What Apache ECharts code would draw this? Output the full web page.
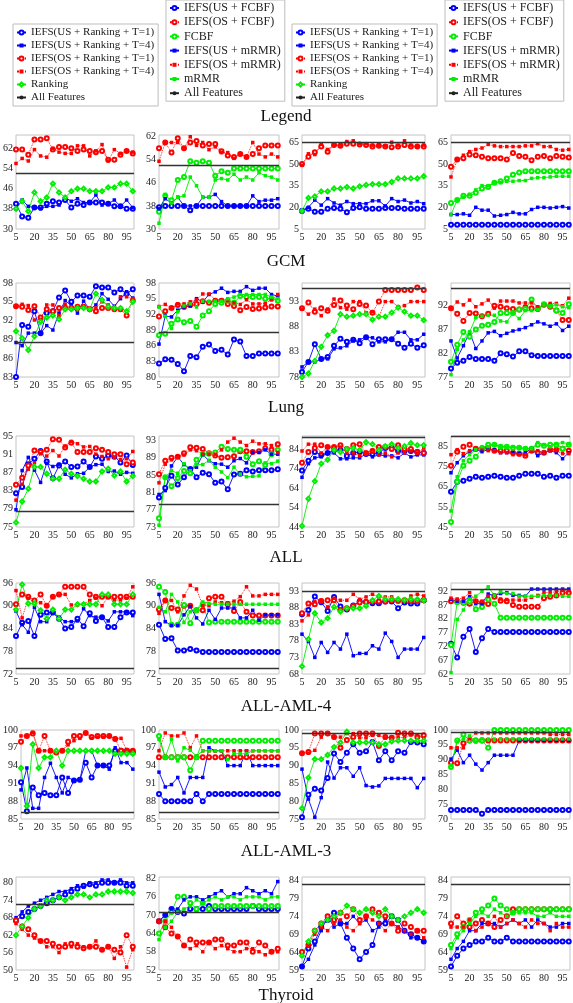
<!DOCTYPE html>
<html><head><meta charset="utf-8">
<script src="https://cdn.jsdelivr.net/npm/echarts@6/dist/echarts.min.js"></script>
<style>html,body{margin:0;padding:0;background:#fff}#c{width:573px;height:1003px}</style>
</head><body><div id="c"></div>
<script>
// ---------------- DATA ----------------
const X = [5,10,15,20,25,30,35,40,45,50,55,60,65,70,75,80,85,90,95,100];
const rowTitles = ['GCM','Lung','ALL','ALL-AML-4','ALL-AML-3','Thyroid'];
const rankNames = ['IEFS(US + Ranking + T=1)','IEFS(US + Ranking + T=4)','IEFS(OS + Ranking + T=1)','IEFS(OS + Ranking + T=4)','Ranking'];
const fsNames = ['IEFS(US + FCBF)','IEFS(OS + FCBF)','FCBF','IEFS(US + mRMR)','IEFS(OS + mRMR)','mRMR'];
const afName = 'All Features';

// y-axis ticks: min, step, max  (rows x 4 columns)
const yMin  = [[30,30,5,5],[83,80,78,77],[75,73,44,45],[72,72,68,62],[85,85,75,70],[50,52,59,59]];
const yStep = [[8,8,15,15],[3,3,5,5],[4,4,10,10],[6,6,5,5],[3,3,5,5],[6,6,5,5]];
const yMax  = [[67.3,62.6,70,70],[98,98,96.7,96.8],[95,94,90.7,90.3],[96,96,95.4,95],[100,100,100,100],[82,82.5,85,85]];
// "All Features" reference value per chart
const allFeat = [[52,52,65,65],[88.6,88.5,95.7,95.7],[78.4,78.3,90.2,90],[73.4,73.4,92.8,92.8],[86.2,86.2,99,99.1],[72.5,71,83,83]];

// Ranking charts: [US T=1, US T=4, OS T=1, OS T=4, Ranking]
// FS charts: [US+FCBF, OS+FCBF, FCBF, US+mRMR, OS+mRMR, mRMR]
const gcm1 = [
 [40,35,34.5,38.5,38.5,40,41,40.5,41.5,38.5,40,39.5,40.5,40.5,40.5,40,39,39,38,38],
 [38,41.5,39,38.5,38,39,39,39.5,42.5,41,42,40.5,40.5,43.5,39.5,40,41.5,39,41.5,38.5],
 [61.5,61.5,59.5,65.5,65.5,66,61.5,62.5,62.5,62,61,61.5,61,60.5,61,57.5,57.5,59.5,61,60],
 [56,58,57,61.5,59,58.5,62,60.5,60,60,63,63,59,61,63.5,57,61.5,60,61,60.5],
 [38,41,37,44.5,41,42.5,48,44.5,42.5,45,46,46,45,45,45,46.5,46.5,48,48,45]];
const gcm2 = [
 [37.5,38,38,38,38,36.5,38,38,38,38,38,38,38,38,38,38,38,38,38,38],
 [58,60,56.5,61.5,58,60,60.5,59,59.5,59.5,57,55.5,55,56,55,56,58,59,59,59],
 [36,41.5,40,47,48,53.5,53,53.5,53,48.5,50,49.5,51,51,51,51,51,51,51,51],
 [37,40.5,39,41,38,38,38,41,41,42,39.5,38,38,38,38,41.5,39.5,40,40,40.5],
 [53.5,60,60,60,58,62,59,60,57.5,58.5,56.5,56.5,54.5,56,55,60,56,55,56,55],
 [32,42,39,41,41.5,48,45,41,41,47,47.5,47,49,47,48,47,49.5,48.5,48,47]];
const gcm3 = [
 [17.5,19,17,17,19,19.5,19,16.5,19.5,20,19,19,19,19.5,19.5,19.5,19,19,19,19],
 [18,20,25,21.5,26,23,21.5,24,22.5,22.5,22.5,24.5,24.5,21,26,24,25,23,24,22.5],
 [50,55,58,62,58.5,63,62.5,64,64,63.5,63,62,62.5,62,61.5,62,63,62,62,62],
 [49,57,56.5,63.5,60,63,63,65.5,66,64,64,63,63,62.5,65,63,66,63,62,63],
 [17.5,26.5,27.5,31,31,33,33,34,33,34.5,35.5,36,36,36,37.5,40,40,40,40,41.5]];
const gcm4 = [
 [8,8,8,8,8,8,8,8,8,8,8,8,8,8,8,8,8,8,8,8],
 [48,53,54,56.5,56,55,54,54,54,53,57.5,55.5,55,52.5,55,55.5,54,55.5,55,54.5],
 [23,25,28,28,30,33,34,37,38,40,42.5,44,45,45,45,45,45,45,45,45],
 [15,15,15.5,14.5,20,18,18,14,14.5,15,16.5,15.5,15.5,18.5,20,20,19.5,20,20.5,19.5],
 [41,53,56,58.5,60,61,63.5,62.5,62,62,62,62,62.5,62.5,64,62,62,60,59.5,60],
 [15,25,27,29,32,35,35,37,37,38,38,38.5,38.5,40,40.5,40.5,41,41.5,41.5,41.5]];
const lung1 = [
 [83,91.3,91,93.5,90,93.2,93.5,95.7,96.8,95,96,96,95.8,97.5,97.3,97.3,96.5,97,96.3,97],
 [88.5,88,90,90,90,91.2,90.5,93.2,95.2,94.4,93.2,95.1,93.8,94.5,96.3,95.4,94.3,95.5,96.6,95.6],
 [94.3,94.2,93.7,94.3,92.5,93.8,93.5,94,94,94,94.2,94.2,93.8,93.5,94,94,93.8,93.8,92.8,95.2],
 [94.3,94.6,94.4,92.1,92.2,94.5,94.5,92.8,94.6,93.8,93.8,94.2,94,94,95,94.5,94,95.8,95.8,95.5],
 [90.3,89.2,87.3,89.5,91.8,92.5,92.8,92.2,93.8,93.8,94,94,93.8,96.3,95.3,94.2,94,94,93.5,95]];
const lung2 = [
 [82.6,83.4,83.3,82.5,81.1,84,83.8,85.8,86.2,85,85.2,84.3,87.2,86.8,84,84,84.5,84.5,84.5,84.5],
 [91.6,92.6,93.2,93.8,93.4,93.8,94,94.5,94.2,94.6,94.6,94,93.6,92.8,93.4,93,93.1,93.3,93.5,93.5],
 [88,88.3,90.2,91,90.5,90.7,89.6,91.8,92.6,94,94.2,94.6,94.2,95.5,95.3,95.3,95.3,95,95,94.6],
 [86.3,91.7,91.5,92.8,93.4,93.6,95,94.4,95.8,96.3,97,96.2,96.4,96.4,97.3,96.6,97,97,95.8,95.5],
 [93.5,93.9,93.2,94,94,94.4,94.8,95.9,95.9,94.8,94.8,94.6,94.2,93.9,94.8,94,94,94.1,94.8,95.8],
 [93.4,91.6,89.3,92.5,93.6,94,93.4,94.5,94.5,94.5,94.5,95,95.3,95.8,95.8,95.8,95.8,95.8,95.3,95]];
const lung3 = [
 [79,81,84.5,81.6,82,84.2,85.6,85,85.4,84.7,85.9,84.5,85.5,85.5,85.5,84.6,83.8,84.6,83.8,84.3],
 [80,81,81,81.6,81.6,83.6,83.8,84.2,85.2,85.4,86,85.8,85,85,85.6,86.9,86.9,85.4,85.4,86.5],
 [91.7,92.8,91,91.7,91.2,92.3,93.2,92.2,91.5,92.5,92.2,90.8,93,95.3,95.3,95.3,95.3,95.3,95.8,95.3],
 [91.5,90.5,91.5,90.2,91.5,93.5,91.8,91.5,93,93,90.8,91,90,93,93,92,92.2,93,93,93],
 [78,78.7,81.2,84,86.3,87.2,90.5,90,90.2,90.5,90.5,89.4,90,90,90.8,91.8,91,90.2,90.2,89.3]];
const lung4 = [
 [78.8,80,80.4,81.2,80.8,80.8,80.8,80.4,82,81.8,81.3,82.4,82.4,81.6,81.4,81.4,81.4,81.4,81.4,81.4],
 [91.5,90.3,88.8,90.5,90.4,89.8,90.3,92,91.8,91.5,91.3,91.2,91.7,91.5,91.3,92.2,91.8,91,89,89],
 [80.2,83.8,86.5,85.5,87,87.8,88,88.6,90.5,90.5,90.5,91.2,91.3,93.3,91.5,92.3,92,91,90.5,92.3],
 [84.6,81,83.6,86.4,83,84.6,86.3,86.6,85.7,86.2,86.7,87,87.4,88,88.6,88.2,87.7,88.2,86.8,87.7],
 [91.5,92.8,92.2,93.2,91.8,92.4,93.2,91.5,93,93,93,92.6,92.6,92.6,91.8,92.2,92.5,92.5,92,93.6],
 [77.5,82.8,84.8,86.5,89.5,89.8,90,90,88.8,88.6,90.5,89.3,91,91,91.2,92.2,92,92.2,91.8,91.6]];
const all1 = [
 [82.4,83.8,88.8,90,91.7,89.4,85.7,88.5,89.4,88.2,88.3,89.4,88.2,90.5,90,90.7,90.5,89.2,90.7,88.6],
 [78.8,87.4,90.3,87.5,84.8,89,88.3,88.8,86.6,85.8,86.7,86.8,88.2,88.7,88.8,87.2,87.3,86.6,87,86.8],
 [84.3,85.8,88.5,91.8,91.5,92,94.3,94.2,92.5,93.5,91.5,91.5,91.5,92.3,92,91.5,91,91,88.8,89.2],
 [80.9,84.4,87.7,89.1,91.1,90.6,91.8,90.6,92.8,93.8,93.3,92.6,92.7,91,90.5,90,90.2,89.8,90,91.6],
 [76,80.6,83.4,88.2,88.2,86.7,85.6,85.6,87.6,86.7,86.2,85.6,85,85,87.2,87.8,86.3,87.2,85,86.2]];
const all2 = [
 [79.8,82,84.8,82.8,84.5,86.4,84.5,85.5,85.2,83.2,83.5,81.7,85.1,85.3,86.1,85.8,86.1,86.1,86.1,86.3],
 [85.2,88.3,89,89.2,90,91.4,91.3,91,90,89.5,89,89.1,89.3,90.5,90.5,90.3,90.5,91.2,90.8,92.1],
 [75,84.5,82.4,84.3,85.9,85.4,88.5,89.8,89.9,90.2,91.5,91,90.8,90.8,89.2,87.5,88.2,87.3,89.8,90.8],
 [80.5,81.4,87.1,89.2,87.4,86.4,86.8,89.7,88.3,87.6,87.5,86.8,88.3,88.8,87.8,90.2,90.2,90.8,89.8,89.8],
 [83.2,87.5,88.5,89.1,89.6,90.8,90.6,89.8,89.8,89.8,90.8,92.6,93.5,92.6,91.8,92.8,92.2,92.2,91.8,90.2],
 [73.4,84.5,86,85.4,87.6,86,87.4,87.4,88.4,86.8,85.7,84.4,86.8,85.2,84.6,84.7,84.8,87.8,87.6,88.2]];
const all3 = [
 [73,78,82.5,81,82,83.5,83.5,80.5,82,82.5,81.5,81.5,82,84.5,84.5,83,83,83,82.5,82],
 [69.5,76.5,79.5,80,82,82,79,79,79.5,79.5,81.5,80,81,80.5,80.5,79.5,82,80,81,81],
 [77,82.5,84.5,86,85,85,86,84,86,86.5,82,83,85,85,84,86,84,84,82.5,82],
 [83,86.5,86.5,82,85,85,85,82,82,80.5,82,83.5,81,82,80,82,82,83,82,84.5],
 [44.5,58.5,67.5,76.5,78.5,83.5,82.5,84,84.5,83.5,87.5,86.5,83.5,85.5,86.5,84.5,85.5,87,86,86]];
const all4 = [
 [62.5,67.5,68,69,70,69.5,70,70.5,70,69.5,69.5,70.5,71.5,71.5,71.5,70,70.5,69.5,70.5,70.5],
 [75.5,82.5,85,86,84,84,84.5,83,83,83,82,81.5,80.5,83,82,82,83.5,83.5,84,83],
 [47.5,67.5,75.5,78,80,84,86,86,85,85,84.5,84.5,84,84,86,85.5,86,86,84,86],
 [72,77,80.5,82.5,83.5,82.5,83.5,83.5,82,82,82,81.5,82,84,80.5,82,83,82,79,82],
 [81,83.5,81.5,83,84,84,83,83,82,82,81,81,81,83,83,82,83,83,81.5,81.5],
 [53,70,78,81,83.5,85,85,86,85,84.5,85,84.5,84,84,87,86,85,86.5,87,86.5]];
const aml4a = [
 [82,85.5,86,82,87.6,88.2,88.2,86.6,84,84.4,86.6,84.6,88,86,87,84.4,84.4,87,88.2,88.2],
 [88.6,85,83,89.6,85.8,85.8,88,87,85.8,85.8,86,89.2,87.4,87,87,86,88.4,88.4,88.4,87.4],
 [90.4,93,92.4,91.4,93,90,92.4,93,95,95,95,95,93,92.4,92.4,92.4,92.4,92.4,92.4,92.4],
 [94,86.8,92,90.8,90.8,90,92.4,92.8,93,90.2,90.2,90.4,91.4,92,90,92.4,91.5,91.5,92,95],
 [89,95.6,90.6,90.6,88.8,86.6,89,86.6,89,89,90.4,90.4,90.4,90.4,93,93,90.4,90.4,90.4,93]];
const aml4b = [
 [85,81.2,81.4,78.2,78.2,78.6,78.2,77.8,77.8,77.8,77.8,77.8,77.8,77.8,77.8,77.8,77.8,77.8,77.8,77.8],
 [89,91.4,89.4,89,90,90,88.8,88.8,92,92.4,92.4,90.4,88.6,91,88.4,87.4,87.4,87.4,87.4,87.4],
 [95,93.6,85,85,90.2,85.4,88.8,90.4,85.6,85.8,85.8,85.8,85.8,85.8,85.8,85.8,85.8,85.8,85.8,85.8],
 [93,85.8,84.8,84.8,87.6,89.8,86.8,85.2,88.8,86.4,89.4,89.4,89.4,86.8,86.8,88.8,86.2,87.6,87.6,87.6],
 [88,91.4,91.4,88.4,92.6,95.4,94.4,90,90,91,90.8,90.8,91.2,92.4,95,92.6,92.6,93,93,93],
 [89.6,88.4,93,91,85.6,88.4,89,91,90.6,90.4,90.4,90.4,90.4,90.4,90.4,90.4,90.4,90.4,90.4,90.4]];
const aml4c = [
 [86,87.3,91.3,89.6,87,91.2,88.3,87.4,88.6,89.8,89.7,89.3,89.3,89.8,89.8,87.8,89.5,89.2,89.2,90.2],
 [80,77.8,73,77.5,74.5,77.5,75.5,80,73.5,74.2,74.2,76.5,75.5,80.3,77.8,73,75.5,75.5,75.5,79],
 [86.3,89.2,89,90,90.2,90.2,87.3,87.8,88.5,89.5,89.7,89.8,89.8,89.8,90.2,90,90.2,90,90,90.2],
 [84,85.8,89.8,90.2,88.2,90.8,90.2,90.2,92,90.5,91.2,92,91.2,91.2,91.2,90,90,91.5,92,91.5],
 [70.3,78.5,86.3,83.5,84.8,88.2,86.8,87.8,87.8,87.8,88.5,90.2,91.5,90.5,90.5,90.5,90.3,90.5,90.5,90.2]];
const aml4d = [
 [73,68,75.5,78.3,70,75,78.3,77.2,77.2,77.2,77.2,77.2,77.2,77.2,77.2,77.2,77.2,77.2,77.2,77.2],
 [88.4,88.4,87.8,87.5,88.4,87.8,87.4,90,88.6,88.4,87,86.4,86.4,86.4,86.4,89.5,90,90.5,91.5,91.5],
 [72.5,88,88,88.3,85.5,86.3,89,87.5,82.4,82.4,82.4,82.4,82.4,82.4,82.4,82.4,82.4,82.4,82.4,82.4],
 [89,88.4,88.4,90,87.5,87.5,91,90.5,91.2,91.5,90.5,90.5,90.2,92.8,92.8,92.8,92.8,92.8,92.8,92.8],
 [89.5,89.2,89.5,91.5,88.2,88.4,90.2,90.6,89.2,89,88.8,88.8,88.8,89.8,90.5,91.5,91.6,91.8,92.3,92.2],
 [62.5,81.8,85.2,89.2,90.2,92,93.6,90.5,91.8,91.2,91.2,90.2,90.2,90.2,90.2,90.5,90.5,90.5,90.2,90.2]];
const aml3a = [
 [91.2,86.3,90.3,89,89.4,89,89,92,89.4,91.5,91.6,94.5,92,94,94,94,96.5,96.5,96.5,96.2],
 [89.9,93.6,86.8,86.8,92,94.4,92,89.4,92,91.5,91.5,96.5,96.5,94,94,93.4,97,94.5,94.5,93.4],
 [98,99,99.4,96.5,99,96.5,96.2,96.5,98,99,99,99.5,98.8,99,99,99,98.5,96.5,96.5,96.5],
 [99,99,99.6,96.5,96.5,96.5,96.5,96.5,97.5,98.2,98.6,99.5,98.6,98.8,98.8,99,98.6,98.6,96.5,96.5],
 [93.6,87.2,97.6,93.6,95.4,95.4,96.5,94,96.5,96.5,96.5,96.5,96.5,96.5,96.5,96.5,96,96,96,96]];
const aml3b = [
 [89.2,88,88,88,88,88,89.2,88,89.2,89.2,89.2,89.2,89.2,89.2,89.2,89.2,89.2,89.2,89.2,89.2],
 [95.4,95.4,95.4,95.4,95.4,95.4,95.4,95.4,95.4,95.4,95.4,95.4,95.4,95.4,95.4,95.4,95.4,95.4,95.4,95.4],
 [99,95.4,95.4,95.4,95.4,93.2,95.4,98.2,98.2,98.2,98.2,98.2,98.2,98.2,98.2,98.2,98.2,98.2,98.2,98.2],
 [92.9,90.4,90.8,92,89.4,92,92,92,97,96.5,96.5,94,94,94,96.5,94,94,94,94,94],
 [96.5,99.5,99,99,99.5,97,99,96.5,96.5,96.5,96.5,96.5,96.5,96.5,96.5,96.5,96.5,96.5,96.5,96.5],
 [98.4,95.4,98.4,94.8,97,96.6,95.6,96.5,96.5,96.5,96.5,95,96,96,96,96.5,96.5,96.5,96.5,96.5]];
const aml3c = [
 [75.5,81.8,83.5,83,86.5,93.4,91,93.6,96,93.6,94,96.6,91.5,94,91.5,94,93.6,96.6,96.5,96],
 [89,80.6,75.5,81,91,86.5,89.4,89.4,87,89.4,84.4,84,84.3,86.4,86.4,86.4,86.4,86.4,83.8,86.4],
 [93.5,93.8,99,99,99,98,95,97.2,98,99,99,99,95.5,98,97.8,99.2,99,99,98,98.5],
 [93.5,93.5,94.3,98,99.2,98,98,99,99,97.8,97.8,98.5,98.5,97.8,98,98,97.8,98.6,98.6,97.5],
 [78,86.6,91.8,91.8,93,95.2,96.5,99.5,96.5,96.5,96.5,96.5,96,96,96.8,97,97,97,97,97]];
const aml3d = [
 [73,73,73,73,73,71.8,73,73,73,73,73,73,73,73,73,73,73,73,73,73],
 [89,88.8,95.5,96.5,96.5,96.5,96.5,96.5,96.5,96.5,96.5,96.5,96.5,96.5,96.5,96.5,96.5,96.5,96.5,96.5],
 [87.5,96.5,98.5,96.5,96.5,96.5,94,100,100,100,100,100,100,100,100,100,100,100,100,100],
 [90.2,93.2,89,91.5,88.5,86.5,89,91.5,91.5,91.5,91.5,96.5,96.5,96.5,96.5,96.5,96.5,96.5,96.5,96.5],
 [94,94,94,97,99,99,99,99,99,99,99,99,99,99,99,99,98.5,98.5,98.5,98.5],
 [88,96,97,98,96,97,96.8,96.8,97,97,97,97,97,97,97,97,97,97,97,97]];
const thy1 = [
 [67,68.5,70,71,72,73,74,75,76,77,78,79,79.5,79,80,80,80,80,79,79],
 [68,70,72,73,74,75,76,77,77,78,79,78.5,80,80,81,81,80,81,80,80],
 [67,65,64,62,60,60,59,58,58,59,58,57.5,58,58,57,58,57,56,62,58],
 [66,64,62,61,60,58,58,56,59,58,59,58,58,60,57,58,54,58,51,57],
 [62,65,68,71,72,74,74,75,74,75,76,76,75,76,76,77,77,77,77,76.5]];
const thy2 = [
 [68,70,72,71,70.5,72,72,72,73,72,72,72,72,72,72,73,72,72,72,72],
 [68,66,64,63,60,62,61,61,61,62,62,60,60,61,61,58,61,60,58,59],
 [64,68,71,76,76,74,72,74,72,73,73,73,73,73,73,73,73,73,73,73],
 [68,70,72,72,75,76,76,75,76,77,78,76,77,77,79,78,77,78,77,81],
 [68,68,66,63,60,59,60,58,61,59,60,59,58,58,59,59,58,57,58,58],
 [62,66,68,71,72,73,75,74,75,76,75,76,76,75,76,76,76,75,76,76]];
const thy3 = [
 [60,65,67,71,73,75,72,68,65,62,64,66,72,72,74,73,70,69,68,67],
 [60,62,66,70,74,71,72,72,74,72,73,70,71,73,72,71,70,68,68,67],
 [64,66,70,72,74,73,75,74,76,73,74,76,75,74,72,70,72,71,70,70],
 [63,66,69,71,70,72,73,71,70,72,74,73,72,70,72,71,70,69,70,68],
 [63,67,70,72,73,74,75,77,76,75,76,75,74,76,74,73,74,75,76,75]];
const thy4 = [
 [60,63,65,66,67,67,68,67,67,68,67,67,67,67,67,67,67,67,67,67],
 [72,74,72,71,72,73,72,71,73,74,76,76,76,76,76,76,76,76,76,76],
 [66,69,71,73,75,76,77,79,77,76,75,76,76,76,76,76,76,76,76,76],
 [62,65,67,70,70,72,72,72,71,72,73,72,73,71,73,72,71,71,72,72],
 [71,71,71,73,70,71,72,74,71,72,73,72,71,73,72,72,70,72,71,71],
 [65,68,70,72,74,75,74,76,75,74,75,75,75,75,74,74,75,74,74,74]];
const chartData = [[gcm1,gcm2,gcm3,gcm4],[lung1,lung2,lung3,lung4],[all1,all2,all3,all4],
  [aml4a,aml4b,aml4c,aml4d],[aml3a,aml3b,aml3c,aml3d],[thy1,thy2,thy3,thy4]];

// ---------------- LAYOUT / STYLE ----------------
const FONT = 'Liberation Serif';
const BLUE = '#0000ff', RED = '#ff0000', GREEN = '#00ee00';
const rankStyle = [[BLUE,'emptyCircle','solid'],[BLUE,'rect','solid'],[RED,'emptyCircle','dotted'],[RED,'rect','dotted'],[GREEN,'emptyDiamond','solid']];
const fsStyle = [[BLUE,'emptyCircle','solid'],[RED,'emptyCircle','dotted'],[GREEN,'emptyCircle','solid'],[BLUE,'rect','solid'],[RED,'rect','dotted'],[GREEN,'rect','solid']];
const colL = [13,159,302,451], colR = [134,279,425,570];
const rowT = [135,283,436,583,730,877], rowB = [229,377,527,674,819,970];
const titleY = [262,408,558,707,852,996];

const grids = [], xAxes = [], yAxes = [], series = [];
for (let r = 0; r < 6; r++) {
  for (let c = 0; c < 4; c++) {
    const gi = r*4 + c;
    grids.push({left: colL[c], top: rowT[r], width: colR[c]-colL[c], height: rowB[r]-rowT[r],
      show: true, borderColor: '#c4c4c4', borderWidth: 1, backgroundColor: 'rgba(0,0,0,0)'});
    const lab = {fontFamily: FONT, fontSize: 10, color: '#222'};
    xAxes.push({type: 'value', gridIndex: gi, min: 5, max: 101, interval: 15,
      axisLine: {show: false}, axisTick: {show: false}, splitLine: {show: false},
      axisLabel: Object.assign({margin: 3, showMaxLabel: false}, lab)});
    const onTick = Math.abs(((yMax[r][c]-yMin[r][c]) / yStep[r][c]) % 1) < 1e-9;
    yAxes.push({type: 'value', gridIndex: gi, min: yMin[r][c], max: yMax[r][c], interval: yStep[r][c],
      axisLine: {show: false}, axisTick: {show: false}, splitLine: {show: false},
      axisLabel: Object.assign({margin: 3, showMaxLabel: onTick}, lab)});
    const isRank = (c % 2 === 0);
    const names = isRank ? rankNames : fsNames;
    const styles = isRank ? rankStyle : fsStyle;
    series.push({name: afName, type: 'line', xAxisIndex: gi, yAxisIndex: gi, data: [],
      symbol: 'none', lineStyle: {color: '#222', width: 1.3}, itemStyle: {color: '#222'},
      markLine: {silent: true, symbol: 'none', label: {show: false},
        lineStyle: {color: '#333', width: 1.3, type: 'solid'}, data: [{yAxis: allFeat[r][c]}]}});
    chartData[r][c].forEach((vals, k) => {
      const st = styles[k];
      series.push({name: names[k], type: 'line', xAxisIndex: gi, yAxisIndex: gi,
        data: X.map((x, i) => [x, vals[i]]),
        symbol: st[1], symbolSize: st[1] === 'rect' ? 3.5 : 4, showSymbol: true,
        lineStyle: {color: st[0], width: 0.9, type: st[2]},
        itemStyle: {color: st[0], borderWidth: 0.8}});
    });
  }
}

const legRank = {orient: 'vertical', itemWidth: 9, itemHeight: 5, itemGap: 2, selectedMode: false,
  borderColor: '#bdbdbd', borderWidth: 1, padding: [3, 4, 3, 3], backgroundColor: '#fff',
  textStyle: {fontFamily: FONT, fontSize: 11, color: '#222', lineHeight: 10},
  data: rankNames.concat([afName])};
const legFs = {orient: 'vertical', itemWidth: 9, itemHeight: 5, itemGap: 2.2, selectedMode: false,
  borderColor: '#bdbdbd', borderWidth: 1, padding: [2, 4, 2, 3], backgroundColor: '#fff',
  textStyle: {fontFamily: FONT, fontSize: 12, color: '#222', lineHeight: 11.5},
  data: fsNames.concat([afName])};
const legends = [
  Object.assign({left: 13, top: 24}, legRank),
  Object.assign({left: 166, top: 0}, legFs),
  Object.assign({left: 292, top: 24}, legRank),
  Object.assign({left: 445, top: 0}, legFs)];

const graphics = [{type: 'text', x: 286, y: 117, style: {text: 'Legend', fontFamily: FONT, fontSize: 17,
  fill: '#111', textAlign: 'center', textVerticalAlign: 'middle', verticalAlign: 'middle'}}];
rowTitles.forEach((t, r) => graphics.push({type: 'text', x: 286, y: titleY[r],
  style: {text: t, fontFamily: FONT, fontSize: 17, fill: '#111', textAlign: 'center',
    textVerticalAlign: 'middle', verticalAlign: 'middle'}}));

const chart = echarts.init(document.getElementById('c'), null, {renderer: 'canvas'});
chart.setOption({animation: false, backgroundColor: '#fff', grid: grids, xAxis: xAxes, yAxis: yAxes,
  legend: legends, series: series, graphic: graphics});
</script></body></html>
